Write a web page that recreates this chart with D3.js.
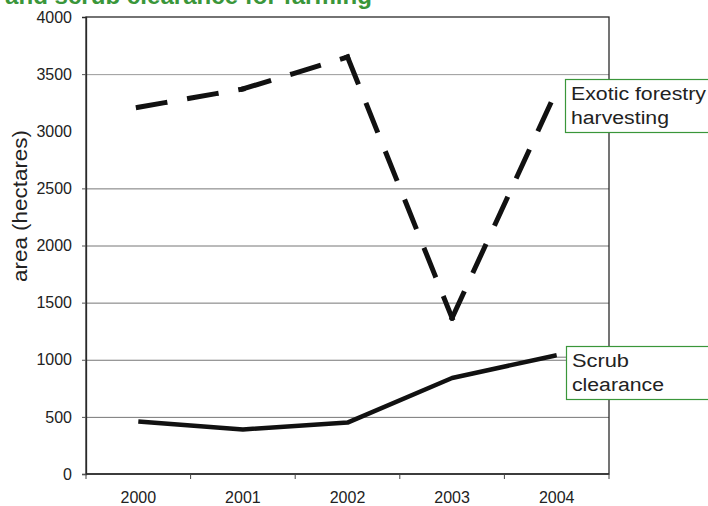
<!DOCTYPE html>
<html>
<head>
<meta charset="utf-8">
<script src="https://cdn.jsdelivr.net/npm/d3@7"></script>
<style>
  html, body { margin: 0; padding: 0; background: #fff; }
  svg { display: block; font-family: "Liberation Sans", Arial, Helvetica, sans-serif; }
</style>
</head>
<body>
<svg id="chart" width="708" height="506"></svg>
<script>
// Area cleared per year (hectares)
const years = ["2000", "2001", "2002", "2003", "2004"];
const forestry = [3210, 3370, 3650, 1365, 3360];
const scrub = [460, 390, 450, 840, 1040];
const yTicks = [0, 500, 1000, 1500, 2000, 2500, 3000, 3500, 4000];
const gridValues = [500, 1000, 1500, 2000, 2500, 3500];
const seriesLabels = [["Exotic forestry", "harvesting"], ["Scrub", "clearance"]];
const titleText = "and scrub clearance for farming";
const yTitle = "area (hectares)";

const svg = d3.select("#chart");
const plot = { left: 86, right: 609, top: 17, bottom: 474 };

const x = d3.scaleBand().domain(years).range([plot.left, plot.right]);
const y = d3.scaleLinear().domain([0, 4000]).range([plot.bottom, plot.top]);

// Title (second line of a heading running off the top edge)
svg.append("text")
  .attr("x", 5).attr("y", 4)
  .attr("fill", "#3a963a")
  .attr("font-weight", "bold")
  .attr("font-size", 24)
  .attr("textLength", 367)
  .attr("lengthAdjust", "spacingAndGlyphs")
  .text(titleText);

// Horizontal gridlines
svg.append("g").selectAll("line").data(gridValues).join("line")
  .attr("x1", plot.left).attr("x2", plot.right)
  .attr("y1", d => y(d) + 0.5).attr("y2", d => y(d) + 0.5)
  .attr("stroke", d => d === 3500 ? "#9a9a9a" : "#777")
  .attr("stroke-width", 1);

// Plot frame
svg.append("rect")
  .attr("x", plot.left).attr("y", plot.top)
  .attr("width", plot.right - plot.left).attr("height", plot.bottom - plot.top)
  .attr("fill", "none").attr("stroke", "#2a2a2a").attr("stroke-width", 1.3);

// Y axis
const yAxis = d3.axisLeft(y).tickValues(yTicks).tickSize(4).tickPadding(10)
  .tickFormat(d3.format("d"));
const gy = svg.append("g").attr("transform", `translate(${plot.left},0)`).call(yAxis);
gy.select(".domain").attr("stroke", "#2a2a2a").attr("stroke-width", 1.3);
gy.selectAll(".tick line").attr("stroke", "#555")
  .attr("opacity", d => (d === 3000 || d === 4000) ? 0 : 1);
gy.selectAll(".tick text")
  .attr("font-size", 16).attr("fill", "#222")
  .attr("font-family", "Liberation Sans, Arial, sans-serif");

// X axis: ticks at category boundaries, labels centred in each band
const gx = svg.append("g").attr("transform", `translate(0,${plot.bottom})`);
gx.append("line").attr("x1", plot.left).attr("x2", plot.right)
  .attr("stroke", "#2a2a2a").attr("stroke-width", 1.3);
const boundaries = years.map(d => x(d)).concat([x.range()[1]]);
gx.selectAll("line.b").data(boundaries).join("line")
  .attr("class", "b")
  .attr("x1", d => d).attr("x2", d => d)
  .attr("y1", 0).attr("y2", 5)
  .attr("stroke", "#444").attr("stroke-width", 1);
gx.selectAll("text").data(years).join("text")
  .attr("x", d => x(d) + x.bandwidth() / 2)
  .attr("y", 29)
  .attr("text-anchor", "middle")
  .attr("font-size", 16).attr("fill", "#222")
  .text(d => d);

// Y axis title
svg.append("text")
  .attr("transform", `translate(27,206) rotate(-90)`)
  .attr("text-anchor", "middle")
  .attr("font-size", 20).attr("fill", "#222")
  .attr("textLength", 152)
  .attr("lengthAdjust", "spacingAndGlyphs")
  .text(yTitle);

const cx = d => x(d) + x.bandwidth() / 2;
const line = d3.line().x(d => cx(d.year)).y(d => y(d.value));

// Exotic forestry harvesting (dashed): each year-to-year segment is its own
// stroke, so the dash pattern starts afresh at every data point.
const forestryPts = years.map((yr, i) => ({ year: yr, value: forestry[i] }));
const forestrySegs = d3.pairs(forestryPts);
svg.append("g").selectAll("path").data(forestrySegs).join("path")
  .attr("d", d => line(d))
  .attr("fill", "none").attr("stroke", "#111")
  .attr("stroke-width", 5)
  .attr("stroke-linecap", "square")
  .attr("stroke-dasharray", "27,25");

// Scrub clearance (solid)
const scrubPts = years.map((yr, i) => ({ year: yr, value: scrub[i] }));
svg.append("path").datum(scrubPts)
  .attr("d", line)
  .attr("fill", "none").attr("stroke", "#111")
  .attr("stroke-width", 4.5)
  .attr("stroke-linejoin", "round");

// Leader from the scrub line end to its label
const lastX = cx(years[years.length - 1]);
svg.append("line")
  .attr("x1", lastX).attr("x2", 566)
  .attr("y1", y(scrub[scrub.length - 1]) + 2).attr("y2", y(scrub[scrub.length - 1]) + 2)
  .attr("stroke", "#777").attr("stroke-width", 1);

// Series label boxes
const boxes = [
  { x: 565.5, y: 79.5, h: 53, lines: seriesLabels[0], widths: [135, 98] },
  { x: 566.5, y: 346.5, h: 53, lines: seriesLabels[1], widths: [57, 92] }
];
boxes.forEach(b => {
  const g = svg.append("g");
  g.append("rect")
    .attr("x", b.x).attr("y", b.y)
    .attr("width", 160).attr("height", b.h)
    .attr("fill", "#fff").attr("stroke", "#3a963a").attr("stroke-width", 1.2);
  g.selectAll("text").data(b.lines).join("text")
    .attr("x", b.x + 5.5)
    .attr("y", (d, i) => b.y + 20 + i * 24.5)
    .attr("font-size", 18).attr("fill", "#222")
    .attr("textLength", (d, i) => b.widths[i])
    .attr("lengthAdjust", "spacingAndGlyphs")
    .text(d => d);
});
</script>
</body>
</html>
